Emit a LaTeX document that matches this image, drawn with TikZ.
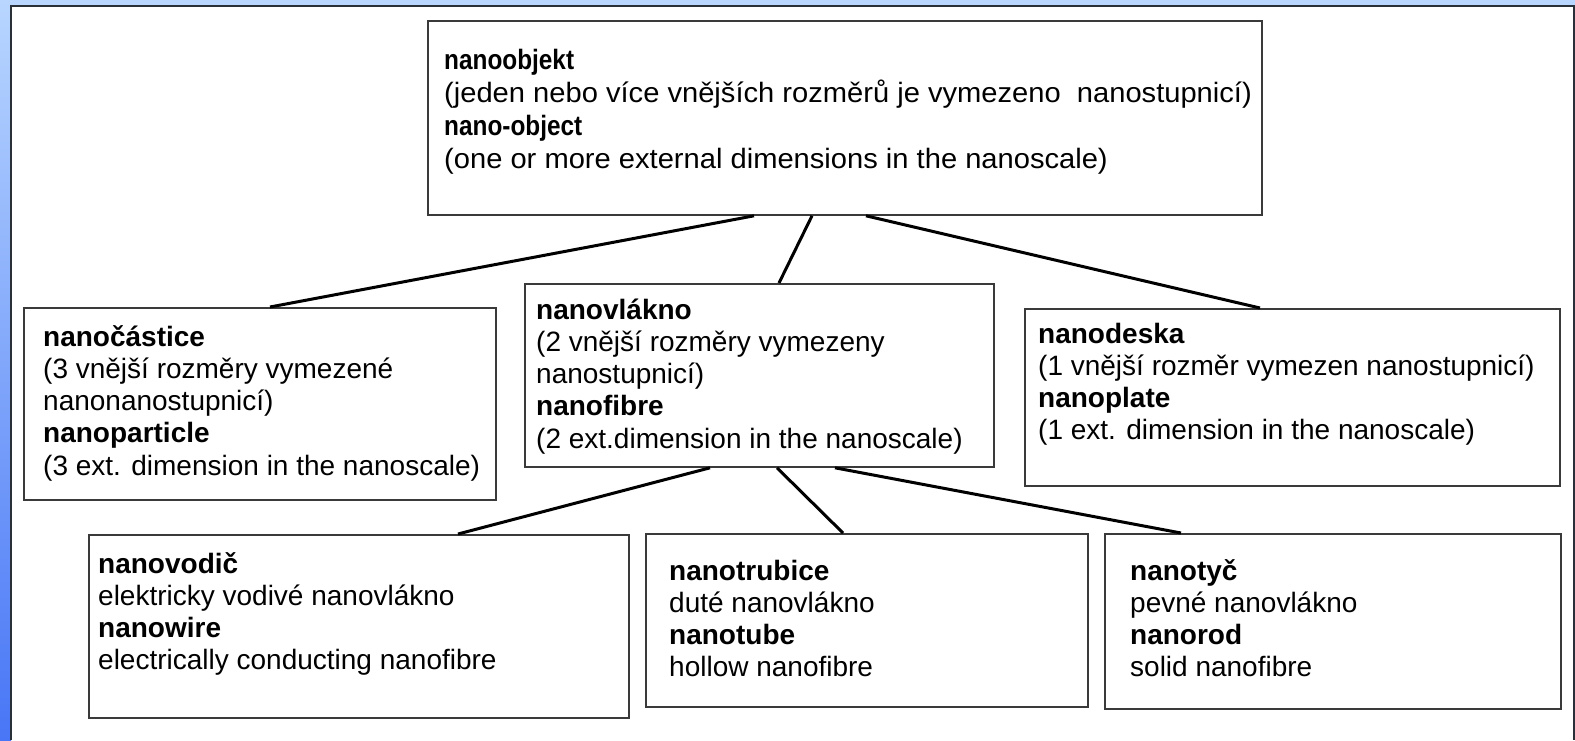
\documentclass[tikz,border=0pt]{standalone}
\usepackage{fontspec}
\setmainfont{Liberation Sans}
\newfontfamily\headsans[FakeStretch=0.87]{Liberation Sans Bold}
\newfontfamily\widesans[FakeStretch=1.04]{Liberation Sans}
\definecolor{paleblue}{RGB}{184,214,255}
\definecolor{deepblue}{RGB}{72,118,246}
\definecolor{framedark}{RGB}{42,48,56}
\definecolor{boxgray}{RGB}{58,58,58}
\tikzset{
  box/.style={draw=boxgray, line width=1.8pt, fill=white, anchor=north west,
              inner sep=0pt},
  txt/.style={anchor=base west, inner sep=0pt,
              font=\fontsize{28}{32.3}\selectfont},
  toptxt/.style={anchor=base west, inner sep=0pt,
              font=\widesans\fontsize{28}{33.3}\selectfont},
  link/.style={draw=black, line width=3pt}
}
\newcommand{\lines}[2]{\parbox[t]{#1}{\raggedright #2}}
\newcommand{\headnarrow}[1]{{\headsans #1}}
\begin{document}
\begin{tikzpicture}[x=1pt,y=-1pt]
  \useasboundingbox (0,0) rectangle (1575,740);
  % page background and frame
  \fill[white] (0,0) rectangle (1575,740);
  \fill[paleblue] (0,0) rectangle (1575,5);
  \shade[top color=paleblue, bottom color=deepblue] (0,0) rectangle (11,740);
  \draw[framedark, line width=2pt] (11,740) -- (11,5.5) -- (1574,5.5) -- (1574,740);

  % boxes
  \node[box, minimum width=834pt, minimum height=194pt] (obj)   at (427,20)  {};
  \node[box, minimum width=472pt, minimum height=192pt] (part)  at (23,307)  {};
  \node[box, minimum width=469pt, minimum height=183pt] (fibre) at (524,283) {};
  \node[box, minimum width=535pt, minimum height=177pt] (plate) at (1024,308) {};
  \node[box, minimum width=540pt, minimum height=183pt] (wire)  at (88,534)  {};
  \node[box, minimum width=442pt, minimum height=173pt] (tube)  at (645,533) {};
  \node[box, minimum width=456pt, minimum height=175pt] (rod)   at (1104,533) {};

  % texts
  \node[toptxt] (objt) at (444,69) {\lines{810pt}{\headnarrow{nanoobjekt}\\
    (jeden nebo více vnějších rozměrů je vymezeno\ \ nanostupnicí)\\
    \headnarrow{nano-object}\\
    (one or more external dimensions in the nanoscale)}};
  \node[txt] (partt) at (43,346) {\lines{450pt}{\textbf{nanočástice}\\
    (3 vnější rozměry vymezené\\
    nanonanostupnicí)\\
    \textbf{nanoparticle}\\
    (3 ext. dimension in the nanoscale)}};
  \node[txt] (fibret) at (536,319) {\lines{450pt}{\textbf{nanovlákno}\\
    (2 vnější rozměry vymezeny\\
    nanostupnicí)\\
    \textbf{nanofibre}\\
    (2 ext.dimension in the nanoscale)}};
  \node[txt] (platet) at (1038,343) {\lines{520pt}{\textbf{nanodeska}\\
    (1 vnější rozměr vymezen nanostupnicí)\\
    \textbf{nanoplate}\\
    (1 ext. dimension in the nanoscale)}};
  \node[txt] (wiret) at (98,573) {\lines{520pt}{\textbf{nanovodič}\\
    elektricky vodivé nanovlákno\\
    \textbf{nanowire}\\
    electrically conducting nanofibre}};
  \node[txt] (tubet) at (669,580) {\lines{420pt}{\textbf{nanotrubice}\\
    duté nanovlákno\\
    \textbf{nanotube}\\
    hollow nanofibre}};
  \node[txt] (rodt) at (1130,580) {\lines{420pt}{\textbf{nanotyč}\\
    pevné nanovlákno\\
    \textbf{nanorod}\\
    solid nanofibre}};

  % connectors
  \draw[link] ([xshift=327pt]obj.south west)   -- ([xshift=247pt]part.north west);
  \draw[link] ([xshift=385pt]obj.south west)   -- ([xshift=255pt]fibre.north west);
  \draw[link] ([xshift=439pt]obj.south west)   -- ([xshift=236pt]plate.north west);
  \draw[link] ([xshift=186pt]fibre.south west) -- ([xshift=370pt]wire.north west);
  \draw[link] ([xshift=253pt]fibre.south west) -- ([xshift=198pt]tube.north west);
  \draw[link] ([xshift=311pt]fibre.south west) -- ([xshift=77pt]rod.north west);
\end{tikzpicture}
\end{document}
